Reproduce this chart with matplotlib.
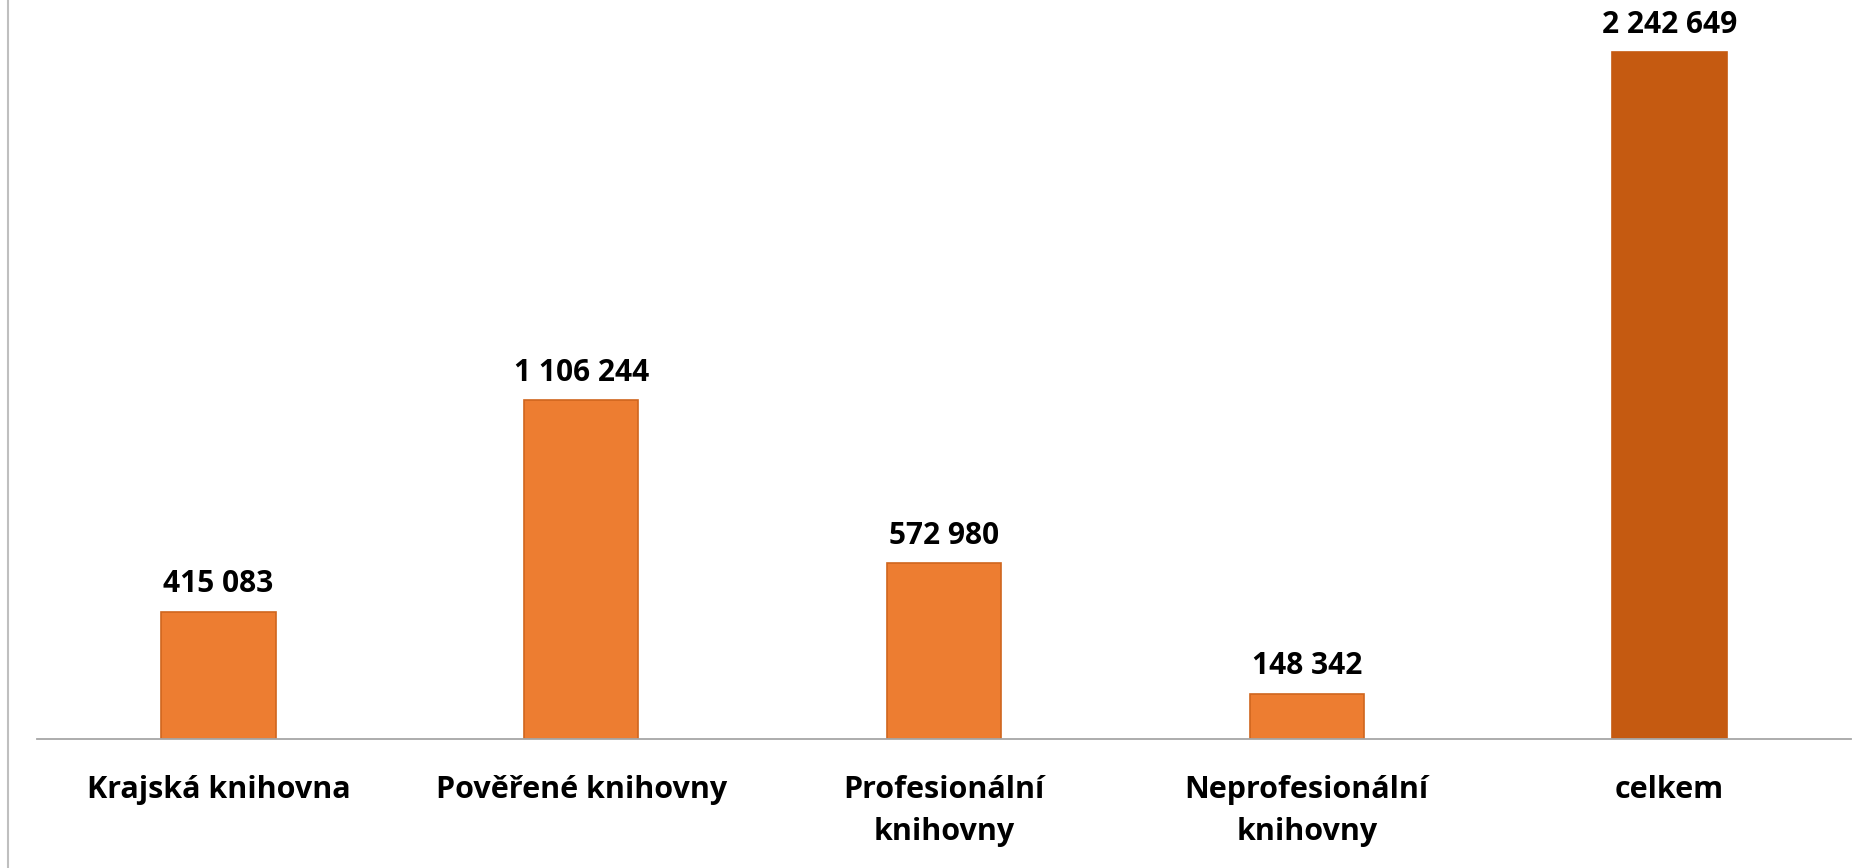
import matplotlib
matplotlib.use("Agg")
import matplotlib.pyplot as plt
from matplotlib.lines import Line2D

categories = ["Krajská knihovna", "Pověřené knihovny", "Profesionální\nknihovny",
              "Neprofesionální\nknihovny", "celkem"]
values = [415083, 1106244, 572980, 148342, 2242649]
value_labels = ["415 083", "1 106 244", "572 980", "148 342", "2 242 649"]

plt.rcParams['font.family'] = ['Open Sans', 'DejaVu Sans']

W, H = 1872, 868
fig = plt.figure(figsize=(W / 100, H / 100), dpi=100)
# axes box in pixels: baseline at y=739, from x=37 to x=1851
ax = fig.add_axes([37 / W, (H - 739) / H, (1851 - 37) / W, 739 / H])

face = ["#ED7D31"] * 4 + ["#C55A11"]
edge = ["#D0661E"] * 4 + ["#C55A11"]
x = range(len(categories))
bars = ax.bar(x, values, width=0.315, color=face, edgecolor=edge, linewidth=1.2, zorder=2)

for b, lab in zip(bars, value_labels):
    ax.annotate(lab, (b.get_x() + b.get_width() / 2, b.get_height()),
                xytext=(0, 9), textcoords="offset points",
                ha="center", va="bottom", fontsize=21.5, fontweight="bold", color="black")

ax.set_xlim(-0.5, 4.5)
ax.set_ylim(0, 2412600)
ax.set_xticks(list(x))
ax.set_xticklabels(categories, fontsize=22, fontweight="bold", linespacing=1.5)
ax.tick_params(axis="x", length=0, pad=26)
ax.set_yticks([])
for s in ["top", "right", "left"]:
    ax.spines[s].set_visible(False)
ax.spines["bottom"].set_color("#A6A6A6")
ax.spines["bottom"].set_linewidth(1.3)

# gray frame edge at the left of the picture
fig.add_artist(Line2D([8 / W, 8 / W], [0, 1], color="#BFBFBF", linewidth=1.5))

fig.savefig("out.png", dpi=100)
